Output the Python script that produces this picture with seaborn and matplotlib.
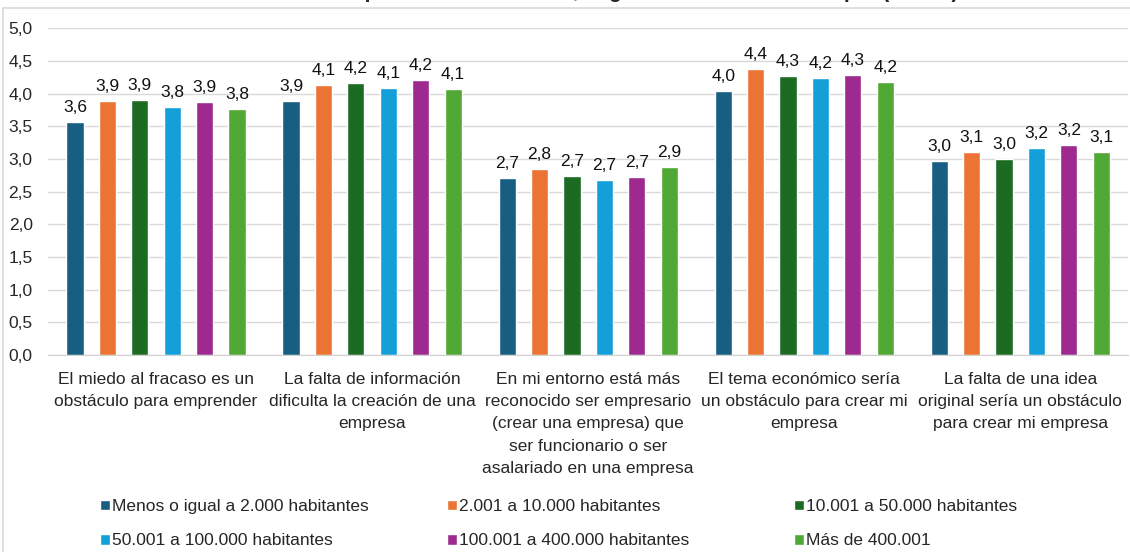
import pandas as pd
import seaborn as sns
import matplotlib.pyplot as plt
from matplotlib.patches import Rectangle

# data
statements = [
    "El miedo al fracaso es un\nobstáculo para emprender",
    "La falta de información\ndificulta la creación de una\nempresa",
    "En mi entorno está más\nreconocido ser empresario\n(crear una empresa) que\nser funcionario o ser\nasalariado en una empresa",
    "El tema económico sería\nun obstáculo para crear mi\nempresa",
    "La falta de una idea\noriginal sería un obstáculo\npara crear mi empresa",
]
sizes = [
    "Menos o igual a 2.000 habitantes",
    "2.001 a 10.000 habitantes",
    "10.001 a 50.000 habitantes",
    "50.001 a 100.000 habitantes",
    "100.001 a 400.000 habitantes",
    "Más de 400.001",
]
hasta_2000 = [3.56, 3.89, 2.71, 4.04, 2.97]
de_2001_10000 = [3.89, 4.13, 2.84, 4.38, 3.10]
de_10001_50000 = [3.90, 4.16, 2.74, 4.27, 3.00]
de_50001_100000 = [3.79, 4.09, 2.67, 4.24, 3.17]
de_100001_400000 = [3.87, 4.21, 2.73, 4.28, 3.21]
mas_400001 = [3.77, 4.07, 2.88, 4.18, 3.11]

colors = ["#175E82", "#EB7333", "#1B6B23", "#13A0D8", "#9E2A8F", "#52A834"]

series = [hasta_2000, de_2001_10000, de_10001_50000,
          de_50001_100000, de_100001_400000, mas_400001]
rows = []
for size, vals in zip(sizes, series):
    for st, v in zip(statements, vals):
        rows.append({"Afirmación": st, "Tamaño": size, "Media": v})
df = pd.DataFrame(rows)

sns.set_style("white")
plt.rcParams["font.family"] = ["Liberation Sans", "DejaVu Sans"]
FS = 12.5

fig = plt.figure(figsize=(11.3, 5.52), dpi=100)
ax = fig.add_axes([0.0425, 0.357, 0.956, 0.592])

sns.barplot(data=df, x="Afirmación", y="Media", hue="Tamaño",
            order=statements, hue_order=sizes, palette=colors, saturation=1,
            width=0.9, gap=0.47, ax=ax, legend=True)

for cont in ax.containers:
    ax.bar_label(cont, labels=[f"{b.get_height():.1f}".replace(".", ",") for b in cont],
                 padding=5, fontsize=FS, color="#111111")

ax.set_ylim(0, 5)
ax.set_xlim(-0.5, 4.5)
ax.set_yticks([i * 0.5 for i in range(11)])
ax.set_yticklabels([f"{i * 0.5:.1f}".replace(".", ",") for i in range(11)], fontsize=FS)
ax.tick_params(axis="y", length=0, pad=11)
ax.tick_params(axis="x", length=0, pad=12)
plt.setp(ax.get_xticklabels(), fontsize=FS, ha="center", linespacing=1.62)
ax.set_xlabel("")
ax.set_ylabel("")
ax.yaxis.grid(True, color="#d9d9d9", linewidth=1)
ax.set_axisbelow(True)
for side in ["left", "right", "top"]:
    ax.spines[side].set_visible(False)
ax.spines["bottom"].set_color("#d0d0d0")

# legend: three columns placed like the reference
handles, labels = ax.get_legend_handles_labels()
ax.get_legend().remove()
col_x = [84 / 1130, 431 / 1130, 778 / 1130]
for c in range(3):
    idx = [c, c + 3]
    fig.legend([handles[i] for i in idx], [labels[i] for i in idx],
               loc="upper left", bbox_to_anchor=(col_x[c], 0.124),
               frameon=False, fontsize=FS, handlelength=0.58, handleheight=0.58,
               handletextpad=0.15, labelspacing=1.1)

# chart frame and clipped title
fig.patches.append(Rectangle((3 / 1130, -0.01), 1.2, 1 - 8 / 552 + 0.01,
                             transform=fig.transFigure, fill=False,
                             edgecolor="#d9d9d9", linewidth=1.2))
fig.text(0.56, 1 + 3 / 552, "Percepción de obstáculos, según tamaño del municipio (media)",
         ha="center", va="baseline", fontsize=15.5, fontweight="bold")

plt.savefig("out.png", dpi=100)
